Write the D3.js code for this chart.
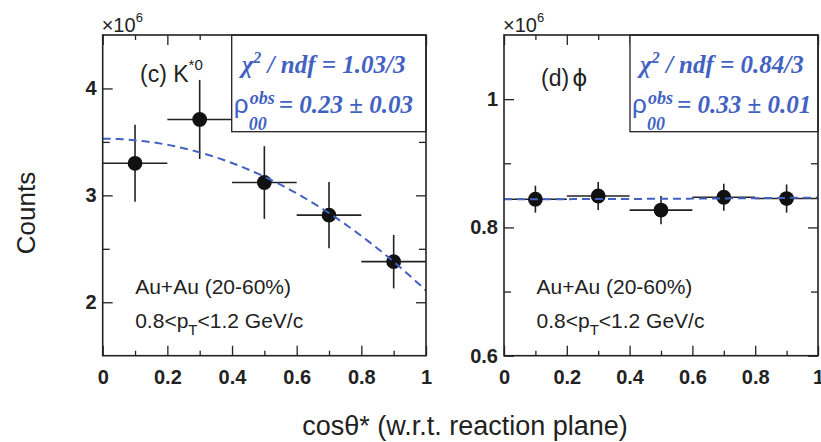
<!DOCTYPE html>
<html>
<head>
<meta charset="utf-8">
<script src="https://cdn.jsdelivr.net/npm/d3@7"></script>
<style>
  body { margin: 0; background: #fff; }
  svg { display: block; }
</style>
</head>
<body>
<svg width="821" height="442"></svg>
<script>
// bin centres and half widths (cos theta*)
const binCenters = [0.1, 0.3, 0.5, 0.7, 0.9];
const binHalfWidth = [0.1, 0.1, 0.1, 0.1, 0.1];

// K*0 counts (x10^6)
const kstarCounts = [3.30, 3.71, 3.12, 2.815, 2.38];
const kstarErr = [0.36, 0.37, 0.34, 0.31, 0.25];

// phi counts (x10^6)
const phiCounts = [0.844, 0.849, 0.827, 0.847, 0.845];
const phiErr = [0.021, 0.022, 0.022, 0.021, 0.022];

// fit results: value at cos=0 and rho00
const kstarFit = [3.53, 0.23];
const phiFit = [0.844, 0.334];

const xMajor = [0, 0.2, 0.4, 0.6, 0.8, 1];
const xMinor = [0.1, 0.3, 0.5, 0.7, 0.9];
const kstarYMajor = [2, 3, 4];
const kstarYMinor = [2.5, 3.5];
const phiYMajor = [0.6, 0.8, 1];
const phiYMinor = [0.7, 0.9];

const svg = d3.select('svg');
const ink = '#222';
const blue = '#4262c2';
const sans = "'Liberation Sans', Arial, sans-serif";
const serif = "'Liberation Serif', 'Times New Roman', serif";

const frameTop = 35, frameBottom = 355.7;

function drawPanel(cfg) {
  const x = d3.scaleLinear().domain([0, 1]).range([cfg.left, cfg.right]);
  const y = d3.scaleLinear().domain(cfg.yDomain).range([frameBottom, frameTop]);
  const g = svg.append('g');

  const pts = binCenters.map((c, i) => ({
    c: c,
    dx: binHalfWidth[i],
    v: cfg.counts[i],
    e: cfg.err[i],
  }));

  // ticks (inward), major + minor, on all four sides
  const axes = [
    [() => d3.axisBottom(x), `translate(0,${frameBottom})`, xMajor, xMinor, true],
    [() => d3.axisTop(x), `translate(0,${frameTop})`, xMajor, xMinor, false],
    [() => d3.axisLeft(y), `translate(${cfg.left},0)`, cfg.yMajor, cfg.yMinor, true],
    [() => d3.axisRight(y), `translate(${cfg.right},0)`, cfg.yMajor, cfg.yMinor, false],
  ];
  axes.forEach(([mk, tr, major, minor, labels], k) => {
    const isX = k < 2;
    g.append('g')
      .attr('transform', tr)
      .call(
        mk()
          .tickValues(major)
          .tickSize(-10)
          .tickPadding(isX ? 14.4 : 6)
          .tickFormat(labels ? d3.format('~g') : '')
      )
      .call((s) => s.select('.domain').remove())
      .call((s) =>
        s
          .selectAll('text')
          .attr('fill', ink)
          .style('font', `bold 20px ${sans}`)
      )
      .call((s) => s.selectAll('line').attr('stroke', ink).attr('stroke-width', 1.3));
    g.append('g')
      .attr('transform', tr)
      .call(mk().tickValues(minor).tickSize(isX ? -5 : -7).tickFormat(''))
      .call((s) => s.select('.domain').remove())
      .call((s) => s.selectAll('line').attr('stroke', ink).attr('stroke-width', 1.3));
  });

  // error bars
  const eb = g.append('g').attr('stroke', ink).attr('stroke-width', 1.6);
  eb.append('g')
    .selectAll('line')
    .data(pts)
    .join('line')
    .attr('x1', (d) => x(d.c - d.dx))
    .attr('x2', (d) => x(d.c + d.dx))
    .attr('y1', (d) => y(d.v))
    .attr('y2', (d) => y(d.v));
  eb.append('g')
    .selectAll('line')
    .data(pts)
    .join('line')
    .attr('x1', (d) => x(d.c))
    .attr('x2', (d) => x(d.c))
    .attr('y1', (d) => y(d.v - d.e))
    .attr('y2', (d) => y(d.v + d.e));

  g.append('g')
    .selectAll('circle')
    .data(pts)
    .join('circle')
    .attr('cx', (d) => x(d.c))
    .attr('cy', (d) => y(d.v))
    .attr('r', 7.4)
    .attr('fill', '#111');

  // fit: N(c) = A [1 + (3rho-1)/(1-rho) c^2]
  const [A, rho] = cfg.fit;
  const fitPts = d3.range(0, 1.0001, 0.01);
  const line = d3
    .line()
    .x((c) => x(c))
    .y((c) => y(A * (1 + ((3 * rho - 1) / (1 - rho)) * c * c)));
  g.append('path')
    .datum(fitPts)
    .attr('d', line)
    .attr('fill', 'none')
    .attr('stroke', blue)
    .attr('stroke-width', 2)
    .attr('stroke-dasharray', '8,5');

  // fit result box
  const bx = cfg.boxLeft;
  g.append('rect')
    .attr('x', bx)
    .attr('y', frameTop)
    .attr('width', cfg.right - bx)
    .attr('height', 131.7 - frameTop)
    .attr('fill', '#fff')
    .attr('stroke', ink)
    .attr('stroke-width', 1.3);

  const bt = g
    .append('g')
    .attr('fill', blue)
    .attr('font-family', serif)
    .attr('font-weight', 'bold')
    .attr('font-style', 'italic');
  const t1 = bt.append('text').attr('x', bx + 10).attr('y', 73.3).attr('font-size', 25);
  t1.append('tspan').text('\u03c7');
  t1.append('tspan').attr('dy', -10).attr('font-size', 16).text('2');
  t1.append('tspan').attr('dy', 10).text(' / ndf = ' + cfg.chi);
  bt.append('text')
    .attr('x', bx + 2)
    .attr('y', 113)
    .attr('font-size', 26)
    .attr('font-style', 'normal')
    .attr('font-weight', 'normal')
    .attr('font-family', sans)
    .text('\u03c1');
  bt.append('text').attr('x', bx + 18).attr('y', 104).attr('font-size', 18).text('obs');
  bt.append('text').attr('x', bx + 17).attr('y', 130).attr('font-size', 18).text('00');
  bt.append('text').attr('x', bx + 47).attr('y', 113).attr('font-size', 25).text('= ' + cfg.rhoText);

  // frame
  g.append('rect')
    .attr('x', cfg.left)
    .attr('y', frameTop)
    .attr('width', cfg.right - cfg.left)
    .attr('height', frameBottom - frameTop)
    .attr('fill', 'none')
    .attr('stroke', ink)
    .attr('stroke-width', 1.6);

  // x10^6
  const mult = g.append('text').attr('x', cfg.left - 1).attr('y', 32).attr('fill', ink).style('font', `20px ${sans}`);
  mult.append('tspan').text('\u00d710');
  mult.append('tspan').attr('dy', -10).style('font-size', '13px').text('6');

  // particle label
  const lab = g.append('text').attr('x', cfg.labelX).attr('y', cfg.labelY).attr('fill', ink).style('font', `23px ${sans}`);
  cfg.label(lab);

  // system labels
  const sys = g.append('g').attr('fill', ink).style('font', `21px ${sans}`);
  sys.append('text').attr('x', cfg.left + 32.5).attr('y', 293.5).text('Au+Au (20-60%)');
  const pt = sys.append('text').attr('x', cfg.left + 32.5).attr('y', 328);
  pt.append('tspan').text('0.8<p');
  pt.append('tspan').attr('dy', 7).style('font-size', '15px').text('T');
  pt.append('tspan').attr('dy', -7).text('<1.2 GeV/c');
}

drawPanel({
  left: 102.7,
  right: 426,
  yDomain: [1.5, 4.5],
  yMajor: kstarYMajor,
  yMinor: kstarYMinor,
  counts: kstarCounts,
  err: kstarErr,
  fit: kstarFit,
  boxLeft: 231.7,
  chi: '1.03/3',
  rhoText: '0.23 \u00b1 0.03',
  labelX: 140,
  labelY: 82,
  label: (t) => {
    t.append('tspan').text('(c) K');
    t.append('tspan').attr('dy', -12).style('font-size', '15px').text('*0');
  },
});

drawPanel({
  left: 504,
  right: 818,
  yDomain: [0.6, 1.1],
  yMajor: phiYMajor,
  yMinor: phiYMinor,
  counts: phiCounts,
  err: phiErr,
  fit: phiFit,
  boxLeft: 630,
  chi: '0.84/3',
  rhoText: '0.33 \u00b1 0.01',
  labelX: 541,
  labelY: 86,
  label: (t) => {
    t.append('tspan').text('(d)');
    t.append('tspan').attr('dx', 3).style('font-family', "'DejaVu Sans', sans-serif").text('\u03d5');
  },
});

// axis titles
svg
  .append('text')
  .attr('transform', 'translate(35,213) rotate(-90)')
  .attr('text-anchor', 'middle')
  .attr('fill', ink)
  .style('font', `26px ${sans}`)
  .text('Counts');

svg
  .append('text')
  .attr('x', 465)
  .attr('y', 435)
  .attr('text-anchor', 'middle')
  .attr('fill', ink)
  .style('font', `27px ${sans}`)
  .text('cos\u03b8* (w.r.t. reaction plane)');
</script>
</body>
</html>
